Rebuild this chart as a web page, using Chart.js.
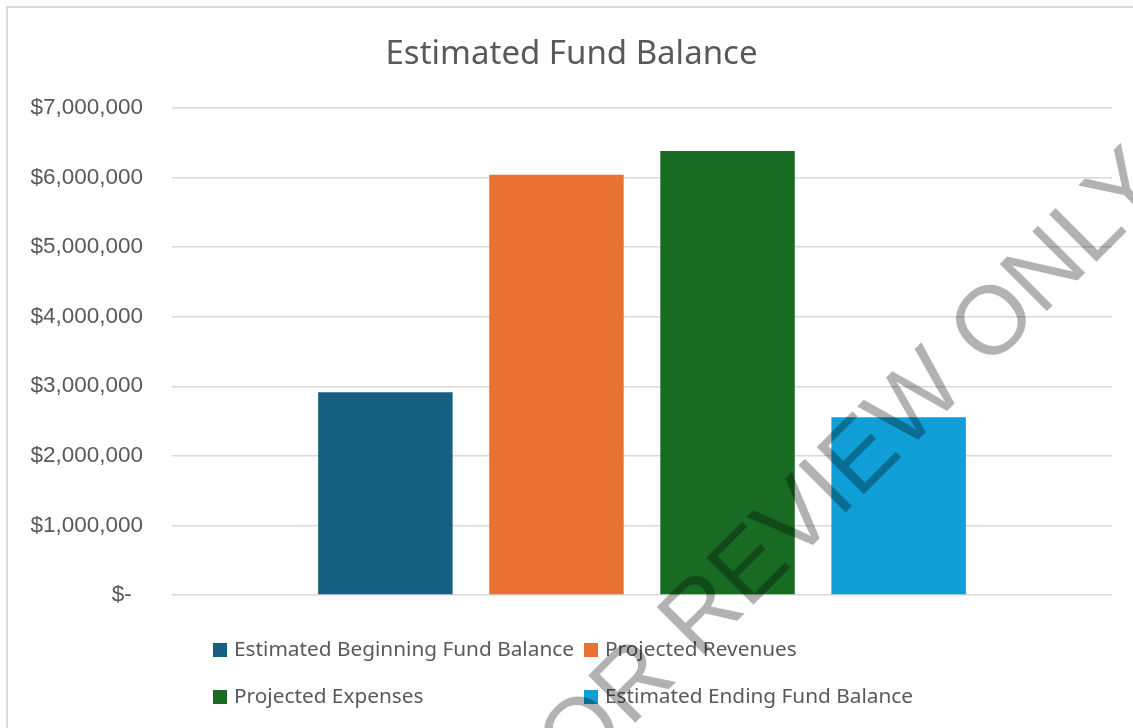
<!DOCTYPE html>
<html>
<head>
<meta charset="utf-8">
<title>Estimated Fund Balance</title>
<script src="https://cdn.jsdelivr.net/npm/chart.js@4"></script>
<style>
	html, body { margin: 0; padding: 0; background: #fff; overflow: hidden; }
	#frame { position: absolute; left: 6px; top: 6px; width: 1160px; height: 760px; border: 2px solid #d9d9d9; box-sizing: border-box; }
	#wrap { position: absolute; left: 0; top: 0; width: 1133px; height: 728px; }
</style>
</head>
<body>
<div id="frame"></div>
<div id="wrap"><canvas id="fundChart"></canvas></div>
<script>
// Données
const categories = [''];
const seriesNames = ['Estimated Beginning Fund Balance', 'Projected Revenues', 'Projected Expenses', 'Estimated Ending Fund Balance'];
const beginningBalance = [2915000];
const projectedRevenues = [6040000];
const projectedExpenses = [6382000];
const endingBalance = [2555000];
const seriesColors = ['#156082', '#E97132', '#196B24', '#0F9ED5'];
const yMax = 7000000;
const yStep = 1000000;

const textColor = '#595959';
const uiFont = '"Noto Sans", sans-serif';

function money(v) {
	if (v === 0) return '$-\u2002';
	return '$' + v.toLocaleString('en-US');
}

// Légende en grille (deux colonnes alignées, comme Excel)
const gridLegend = {
	id: 'gridLegend',
	afterDraw(chart) {
		const ctx = chart.ctx;
		ctx.save();
		ctx.font = '20.8px ' + uiFont;
		ctx.textBaseline = 'middle';
		chart.data.datasets.forEach((ds, i) => {
			const x = 213 + (i % 2) * 371;
			const y = 650 + Math.floor(i / 2) * 47;
			ctx.fillStyle = ds.backgroundColor;
			ctx.fillRect(x, y - 7, 14, 14);
			ctx.fillStyle = textColor;
			ctx.fillText(ds.label, x + 21, y);
		});
		ctx.restore();
	}
};

// Filigrane
const watermark = {
	id: 'watermark',
	afterDraw(chart) {
		const ctx = chart.ctx;
		ctx.save();
		ctx.translate(852, 506);
		ctx.rotate(-Math.PI / 4);
		ctx.font = '97px "Liberation Sans", Arial, sans-serif';
		ctx.fillStyle = 'rgba(0,0,0,0.3)';
		ctx.textAlign = 'center';
		ctx.textBaseline = 'alphabetic';
		ctx.fillText('FOR REVIEW ONLY', 0, 0);
		ctx.restore();
	}
};

const values = [beginningBalance, projectedRevenues, projectedExpenses, endingBalance];

new Chart(document.getElementById('fundChart'), {
	type: 'bar',
	data: {
		labels: categories,
		datasets: seriesNames.map((name, i) => ({
			label: name,
			data: values[i],
			backgroundColor: seriesColors[i],
			borderWidth: 0,
			categoryPercentage: 0.728,
			barPercentage: 0.786
		}))
	},
	options: {
		responsive: true,
		maintainAspectRatio: false,
		animation: false,
		layout: { padding: { left: 31, right: 21, top: 0, bottom: 133 } },
		plugins: {
			legend: { display: false },
			title: {
				display: true,
				text: 'Estimated Fund Balance',
				color: textColor,
				font: { family: uiFont, size: 33, weight: 'normal', lineHeight: 1.2 },
				padding: { top: 35, bottom: 33.4 }
			}
		},
		scales: {
			x: { display: false },
			y: {
				min: 0,
				max: yMax,
				afterFit: (scale) => { scale.width = 141; },
				ticks: {
					stepSize: yStep,
					padding: 29,
					color: textColor,
					font: { family: '"Liberation Sans", Arial, sans-serif', size: 22.5 },
					callback: (v) => money(v)
				},
				grid: { color: '#d9d9d9', lineWidth: 1.5, drawTicks: false },
				border: { display: false }
			}
		}
	},
	plugins: [gridLegend, watermark]
});
</script>
</body>
</html>
